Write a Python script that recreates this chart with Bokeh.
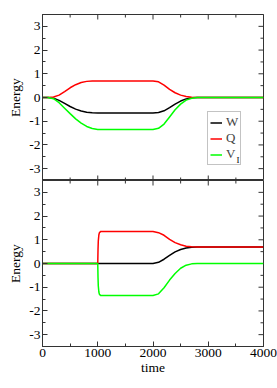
import math
from bokeh.plotting import figure
from bokeh.models import (LinearAxis, FixedTicker, Range1d, Legend, LegendItem, Label)
from bokeh.layouts import column
from bokeh.embed import file_html
from bokeh.resources import INLINE

# ---- data ----
t_top = [0, 100, 200, 300, 400, 500, 600, 700, 800, 900, 1000,
         2000, 2100, 2200, 2300, 2400, 2500, 2600, 2700, 2800, 4000]
W_top = [0, 0, -0.03, -0.12, -0.25, -0.38, -0.49, -0.57, -0.62, -0.645, -0.65,
         -0.65, -0.63, -0.56, -0.43, -0.28, -0.15, -0.06, -0.015, 0, 0]
Q_top = [0, 0, 0.02, 0.10, 0.25, 0.41, 0.54, 0.63, 0.68, 0.70, 0.70,
         0.70, 0.66, 0.52, 0.34, 0.20, 0.10, 0.04, 0.01, 0, 0]
V_top = [0, 0, -0.05, -0.22, -0.45, -0.68, -0.90, -1.08, -1.22, -1.31, -1.35,
         -1.35, -1.30, -1.12, -0.82, -0.52, -0.28, -0.11, -0.03, 0, 0]

t_bot = [0, 1000, 1005, 1010, 1020, 1030, 1050, 1080,
         2000, 2100, 2200, 2300, 2400, 2500, 2600, 2700, 2800, 4000]
W_bot = [0, 0, 0, 0, 0, 0, 0, 0,
         0, 0.05, 0.18, 0.34, 0.49, 0.59, 0.65, 0.69, 0.70, 0.70]
Q_bot = [0, 0, 0.6, 0.95, 1.2, 1.3, 1.345, 1.35,
         1.35, 1.30, 1.19, 1.02, 0.88, 0.79, 0.73, 0.705, 0.70, 0.70]
V_bot = [0, 0, -0.6, -0.95, -1.2, -1.3, -1.345, -1.35,
         -1.35, -1.28, -1.02, -0.70, -0.42, -0.20, -0.07, -0.015, 0, 0]

x_ticks = [0, 1000, 2000, 3000, 4000]
x_minor = [500, 1500, 2500, 3500]
y_ticks = [-3, -2, -1, 0, 1, 2, 3]
y_minor = [-3.5, -2.5, -1.5, -0.5, 0.5, 1.5, 2.5, 3.5]
series_labels = ["W", "Q", "V"]
series_colors = ["black", "#ff0000", "#00ff00"]

FONT = "Liberation Serif"
AX = "#333333"
X0, X1, Y0, Y1 = 0, 4000, -3.5, 3.5
FRAME_W, FRAME_H = 221, 166


def style_axis(ax):
    ax.axis_line_color = AX
    ax.major_tick_line_color = AX
    ax.minor_tick_line_color = AX
    ax.major_tick_in = 5
    ax.major_tick_out = 0
    ax.minor_tick_in = 3
    ax.minor_tick_out = 0
    ax.major_label_text_font = FONT
    ax.major_label_text_font_size = "13.5px"
    ax.major_label_standoff = 2
    ax.axis_label_text_font = FONT
    ax.axis_label_text_font_style = "normal"
    ax.axis_label_text_color = "black"
    ax.major_label_text_color = "black"


def mirror_ticks(p, bottom_ticks):
    # tick marks on the frame edges without labels (dash markers clipped by frame)
    kw = dict(marker="dash", line_color=AX, line_width=1)
    p.scatter(x=x_ticks, y=[Y1] * len(x_ticks), angle=math.pi / 2, size=10, **kw)
    p.scatter(x=x_minor, y=[Y1] * len(x_minor), angle=math.pi / 2, size=6, **kw)
    p.scatter(x=[X1] * len(y_ticks), y=y_ticks, size=10, **kw)
    p.scatter(x=[X1] * len(y_minor), y=y_minor, size=6, **kw)
    if bottom_ticks:
        p.scatter(x=x_ticks, y=[Y0] * len(x_ticks), angle=math.pi / 2, size=10, **kw)
        p.scatter(x=x_minor, y=[Y0] * len(x_minor), angle=math.pi / 2, size=6, **kw)


def make_panel(show_x_axis, height, min_top, min_bottom):
    p = figure(width=277, height=height,
               x_range=Range1d(X0, X1), y_range=Range1d(Y0, Y1),
               output_backend="svg", toolbar_location=None,
               x_axis_location=None, y_axis_location=None,
               min_border_left=42, min_border_right=14,
               min_border_top=min_top, min_border_bottom=min_bottom)
    p.grid.visible = False
    p.outline_line_color = AX
    p.outline_line_width = 1
    p.background_fill_color = "white"
    p.border_fill_color = "white"

    left = LinearAxis(ticker=FixedTicker(ticks=y_ticks, minor_ticks=y_minor),
                      axis_label="Energy",
                      major_label_overrides={v: str(v) for v in y_ticks})
    style_axis(left)
    left.axis_label_text_font_size = "13.5px"
    left.axis_label_standoff = 3
    p.add_layout(left, "left")

    if show_x_axis:
        below = LinearAxis(ticker=FixedTicker(ticks=x_ticks, minor_ticks=x_minor),
                           axis_label="time")
        style_axis(below)
        below.axis_label_text_font_size = "13.5px"
        below.axis_label_standoff = 0
        p.add_layout(below, "below")
    mirror_ticks(p, bottom_ticks=not show_x_axis)
    return p


p1 = make_panel(False, 180, 14, 0)
p2 = make_panel(True, 208, 0, 42)

rs = []
for ys, c in zip([W_top, Q_top, V_top], series_colors):
    rs.append(p1.line(t_top, ys, line_color=c, line_width=1.5))
for ys, c in zip([W_bot, Q_bot, V_bot], series_colors):
    p2.line(t_bot, ys, line_color=c, line_width=1.5)

legend = Legend(items=[LegendItem(label=l, renderers=[r]) for l, r in zip(series_labels, rs)],
                location=(165, 15), margin=0, padding=2, spacing=0,
                glyph_width=12, glyph_height=13, label_height=13,
                label_standoff=4, label_width=0,
                label_text_font=FONT, label_text_font_size="13px",
                label_text_line_height=1.0,
                border_line_color="#888888", border_line_width=1,
                background_fill_alpha=0)
p1.add_layout(legend)

# subscript "I" of the V legend entry, placed from frame pixel offsets
sub_px, sub_py = 194, 16
sub = Label(x=X0 + sub_px / FRAME_W * (X1 - X0), y=Y0 + sub_py / FRAME_H * (Y1 - Y0),
            text="I", text_font=FONT, text_font_size="9px", text_color="black",
            text_baseline="bottom", text_align="left")
p1.add_layout(sub)

layout = column(p1, p2, spacing=0)

open("out.html", "w").write(file_html(layout, INLINE))
